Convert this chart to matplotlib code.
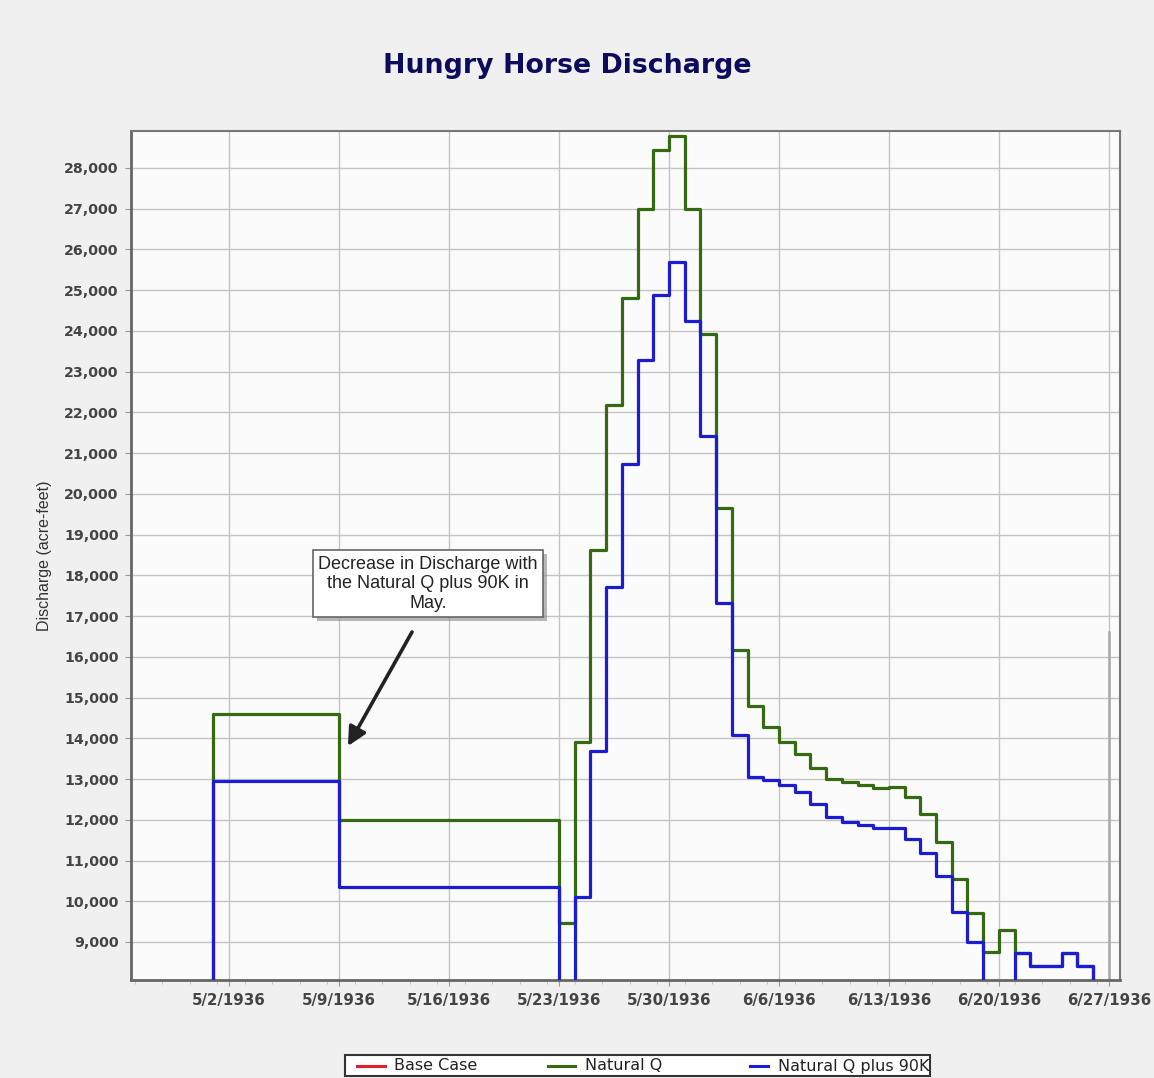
import pandas as pd
import matplotlib
matplotlib.use('Agg')
import matplotlib.pyplot as plt
import matplotlib.dates as mdates
import matplotlib.transforms as mtransforms
from matplotlib.patches import Rectangle
from matplotlib.lines import Line2D
from matplotlib.ticker import FuncFormatter, FixedLocator

# step start dates (daily from 5/23), values in acre-feet
# values below the axis floor are drawn off-chart, as in the original
natural_dates = ['1936-04-30', '1936-05-01', '1936-05-09', '1936-05-23', '1936-05-24',
                 '1936-05-25', '1936-05-26', '1936-05-27', '1936-05-28', '1936-05-29',
                 '1936-05-30', '1936-05-31', '1936-06-01', '1936-06-02', '1936-06-03',
                 '1936-06-04', '1936-06-05', '1936-06-06', '1936-06-07', '1936-06-08',
                 '1936-06-09', '1936-06-10', '1936-06-11', '1936-06-12', '1936-06-13',
                 '1936-06-14', '1936-06-15', '1936-06-16', '1936-06-17', '1936-06-18',
                 '1936-06-19', '1936-06-20', '1936-06-21', '1936-06-22', '1936-06-23',
                 '1936-06-24', '1936-06-25', '1936-06-26', '1936-06-28']
natural_q = [7800, 14600, 12000, 9470, 13920,
             18620, 22180, 24800, 27000, 28440,
             28780, 27000, 23920, 19660, 16170,
             14790, 14270, 13920, 13610, 13260,
             12990, 12930, 12850, 12770, 12810,
             12570, 12130, 11460, 10540, 9720,
             8760, 9290, 8740, 8420, 8420,
             8740, 8420, 7800, 7800]

plus90k_dates = natural_dates
natural_q_90k = [7800, 12960, 10360, 7800, 10100,
                 13680, 17710, 20730, 23290, 24880,
                 25700, 24250, 21430, 17330, 14080,
                 13060, 12980, 12850, 12670, 12380,
                 12075, 11940, 11860, 11790, 11790,
                 11520, 11190, 10620, 9740, 9010,
                 7800, 7800, 8740, 8420, 8420,
                 8740, 8420, 7800, 7800]

series_names = ['Base Case', 'Natural Q', 'Natural Q plus 90K']
series_colors = ['#e0202a', '#346a12', '#1c1cd2']

week_ticks = pd.date_range('1936-05-02', '1936-06-27', freq='7D')
y_ticks = list(range(9000, 28001, 1000))

fig = plt.figure(figsize=(11.54, 10.78), dpi=100, facecolor='#f0f0f0')
ax = fig.add_axes([131/1154, 1-980/1078, 989/1154, 849/1078])
ax.set_facecolor('#fbfbfb')

ax.step(pd.to_datetime(natural_dates), natural_q, where='post',
        color=series_colors[1], lw=2.3, zorder=3)
ax.step(pd.to_datetime(plus90k_dates), natural_q_90k, where='post',
        color=series_colors[2], lw=2.3, zorder=4)

ax.set_xlim(pd.Timestamp('1936-04-25 18:00'), pd.Timestamp('1936-06-27 17:00'))
ax.set_ylim(8067, 28908)

ax.xaxis.set_major_locator(FixedLocator(mdates.date2num(week_ticks)))
ax.xaxis.set_minor_locator(FixedLocator(mdates.date2num(
    pd.date_range('1936-04-26', '1936-06-28', freq='42h'))))
ax.xaxis.set_major_formatter(FuncFormatter(
    lambda v, p: '{0.month}/{0.day}/{0.year}'.format(mdates.num2date(v))))
ax.set_yticks(y_ticks)
ax.yaxis.set_major_formatter(FuncFormatter(lambda v, p: f'{v:,.0f}'))

ax.tick_params(axis='both', which='major', length=4, color='#999999',
               labelcolor='#444444', pad=5)
ax.tick_params(axis='x', which='major', labelsize=10.8)
ax.tick_params(axis='y', which='major', labelsize=10.2)
ax.tick_params(axis='x', which='minor', length=3, color='#bbbbbb')
for lab in ax.get_xticklabels() + ax.get_yticklabels():
    lab.set_fontweight('bold')

ax.grid(True, which='major', color='#c4c4c4', lw=1)
ax.set_axisbelow(True)
for side in ['left', 'bottom']:
    ax.spines[side].set_color('#666666')
    ax.spines[side].set_linewidth(2)
for side in ['top', 'right']:
    ax.spines[side].set_color('#777777')
    ax.spines[side].set_linewidth(1.5)

# odd gray marker at the right edge of the original screenshot
ax.axvline(pd.Timestamp('1936-06-27'), ymax=0.41, color='#a8a8a8', lw=1.8, zorder=2)

ax.set_ylabel('Discharge (acre-feet)', fontsize=11.5, color='#333333',
              family='Liberation Sans')
ax.yaxis.set_label_coords(-0.08, 0.5)

fig.text(567/1154, 1-66/1078, 'Hungry Horse Discharge', ha='center', va='center',
         fontsize=19.3, fontweight='bold', color='#0c0c5c')

# annotation box
note = 'Decrease in Discharge with\nthe Natural Q plus 90K in\nMay.'
note_x = pd.Timestamp('1936-05-02') + pd.Timedelta(days=12.66)
note_y = 17790
note_txt = ax.text(note_x, note_y, note, ha='center', va='center', fontsize=13,
                   linespacing=1.2, color='#222222', family='Liberation Sans',
                   bbox=dict(boxstyle='square,pad=0.3', fc='white', ec='#666666', lw=1.2),
                   zorder=6)
ax.annotate('', xy=(pd.Timestamp('1936-05-02') + pd.Timedelta(days=7.56), 13810),
            xytext=(pd.Timestamp('1936-05-02') + pd.Timedelta(days=11.64), 16610),
            arrowprops=dict(arrowstyle='-|>', color='#222222', lw=2.6,
                            mutation_scale=28, shrinkA=0, shrinkB=0),
            zorder=6)

# drop shadow behind the note box
fig.canvas.draw()
bb = note_txt.get_bbox_patch().get_window_extent()
ax.add_patch(Rectangle((bb.x0 + 4, bb.y0 - 4), bb.width, bb.height,
                       transform=mtransforms.IdentityTransform(),
                       fc='#8a8a8a', ec='none', alpha=0.6, zorder=5, clip_on=False))

# legend strip at the bottom (clipped on the right like the original)
frame = Rectangle((345/1154, 1-1076/1078), 585/1154, 21/1078, transform=fig.transFigure,
                  fc='white', ec='#333333', lw=1.5)
fig.add_artist(frame)
handle_x = [(357, 385), (548, 575), (750, 768)]
text_x = [394, 585, 778]
ly = 1-1066/1078
for name, col, (h0, h1), tx in zip(series_names, series_colors, handle_x, text_x):
    fig.add_artist(Line2D([h0/1154, h1/1154], [ly, ly], transform=fig.transFigure,
                          color=col, lw=2.2))
    t = fig.text(tx/1154, ly, name, ha='left', va='center', fontsize=11.5,
                 color='#222222')
    t.set_clip_path(frame)

fig.savefig('out.png', dpi=100, facecolor=fig.get_facecolor())
